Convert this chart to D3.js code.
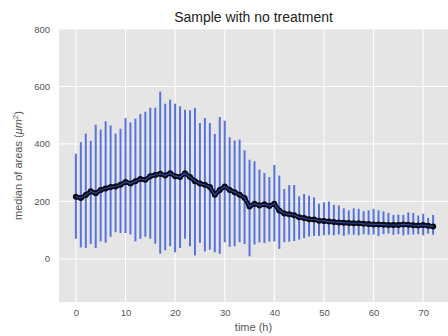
<!DOCTYPE html>
<html><head><meta charset="utf-8">
<script src="https://cdn.jsdelivr.net/npm/d3@7"></script>
<style>body{margin:0;background:#fff;} svg{display:block;}</style>
</head><body><svg id="c" width="448" height="336"></svg>
<script>
const times = d3.range(0, 73);
const medians = [216,212,222,235,228,240,245,250,252,258,268,262,270,278,275,288,292,296,290,298,288,285,298,285,270,262,258,250,223,240,252,240,232,223,212,182,192,186,190,184,192,168,158,155,152,145,142,138,137,133,132,130,128,127,126,125,124,124,122,121,120,120,119,118,118,118,120,119,117,116,118,115,113];
const tops = [366,406,436,411,467,450,479,464,436,453,490,475,488,504,512,526,526,582,540,554,540,531,519,517,525,473,490,473,435,494,481,423,412,415,378,345,340,311,299,285,327,290,243,257,257,218,226,220,214,192,197,200,188,186,176,169,176,174,166,169,174,169,165,160,153,154,153,162,160,151,157,143,153];
const bottoms = [70,40,38,52,38,61,56,77,93,90,90,85,61,70,77,70,53,18,30,44,23,38,70,44,12,56,26,32,23,18,58,42,44,58,52,9,50,57,55,60,61,35,58,60,62,67,72,78,80,80,82,84,82,85,80,85,84,82,86,84,85,80,86,88,84,86,82,84,85,86,82,88,84];
const xTicks = [0,10,20,30,40,50,60,70];
const yTicks = [0,200,400,600,800];
const data = times.map((t,i)=>({t, m:medians[i], hi:tops[i], lo:bottoms[i]}));

const FONT = "'Liberation Sans', Arial, sans-serif";
const svg = d3.select('#c');
const L=59, R=448, T=29, B=302;
const x = d3.scaleLinear().domain([-3.4, 75]).range([L, R]);
const y = d3.scaleLinear().domain([-150, 800]).range([B, T]);

svg.append('rect').attr('x',L).attr('y',T).attr('width',R-L).attr('height',B-T).attr('fill','#e5e5e5');
const g = svg.append('g');
g.selectAll('.gx').data(xTicks).join('line').attr('x1',d=>x(d)).attr('x2',d=>x(d)).attr('y1',T).attr('y2',B).attr('stroke','#fff').attr('stroke-width',1);
g.selectAll('.gy').data(yTicks).join('line').attr('y1',d=>y(d)).attr('y2',d=>y(d)).attr('x1',L).attr('x2',R).attr('stroke','#fff').attr('stroke-width',1);

const xa = svg.append('g').attr('transform',`translate(0,${B})`).call(d3.axisBottom(x).tickValues(xTicks).tickSize(0).tickPadding(7));
const ya = svg.append('g').attr('transform',`translate(${L},0)`).call(d3.axisLeft(y).tickValues(yTicks).tickSize(0).tickPadding(9));
[xa,ya].forEach(a=>{a.select('.domain').remove(); a.selectAll('text').attr('fill','#555').style('font-family',FONT).style('font-size','9.5px');});

svg.append('g').selectAll('line').data(data).join('line')
  .attr('x1',d=>x(d.t)).attr('x2',d=>x(d.t)).attr('y1',d=>y(d.lo)).attr('y2',d=>y(d.hi))
  .attr('stroke','#5874dc').attr('stroke-width',2);

svg.append('path').datum(data).attr('fill','none').attr('stroke','#0a0a18').attr('stroke-width',4.5).attr('stroke-linejoin','round')
  .attr('d', d3.line().x(d=>x(d.t)).y(d=>y(d.m)));
svg.append('g').selectAll('circle').data(data).join('circle')
  .attr('cx',d=>x(d.t)).attr('cy',d=>y(d.m)).attr('r',3).attr('fill','#0a0a14');
svg.append('path').datum(data).attr('fill','none').attr('stroke','#3a5ad0').attr('stroke-width',1.2).attr('opacity',0.75)
  .attr('d', d3.line().x(d=>x(d.t)).y(d=>y(d.m)));

svg.append('text').attr('x',(L+R)/2).attr('y',22).attr('text-anchor','middle').attr('fill','#222')
  .style('font-family',FONT).style('font-size','14px').text('Sample with no treatment');
svg.append('text').attr('x',(L+R)/2).attr('y',331).attr('text-anchor','middle').attr('fill','#555')
  .style('font-family',FONT).style('font-size','11px').text('time (h)');
const yl = svg.append('text').attr('transform',`translate(22,${(T+B)/2}) rotate(-90)`).attr('text-anchor','middle').attr('fill','#555')
  .style('font-family',FONT).style('font-size','11px');
yl.append('tspan').text('median of areas (');
yl.append('tspan').attr('font-style','italic').text('μm');
yl.append('tspan').attr('baseline-shift','super').attr('font-size','8px').text('2');
yl.append('tspan').text(')');
</script></body></html>
